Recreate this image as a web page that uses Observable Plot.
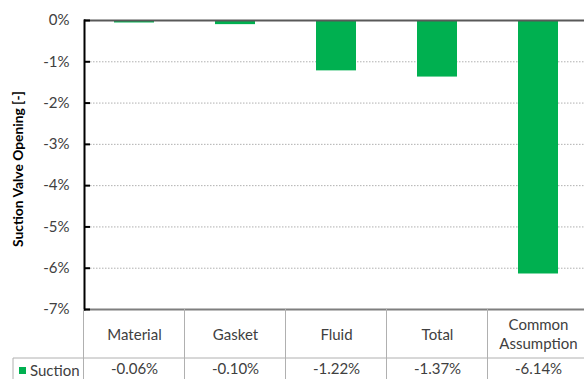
<!DOCTYPE html>
<html><head><meta charset="utf-8">
<script src="https://cdn.jsdelivr.net/npm/d3@7"></script>
<script src="https://cdn.jsdelivr.net/npm/@observablehq/plot@0.6"></script>
<style>body{margin:0;background:#fff;overflow:hidden}</style>
</head><body><div id="chart"></div>
<script>
const categories = ["Material", "Gasket", "Fluid", "Total", "Common Assumption"];
const suction = [-0.06, -0.10, -1.22, -1.37, -6.14];
const seriesName = "Suction";
const yTicks = [0, -1, -2, -3, -4, -5, -6, -7];
const yTitle = "Suction Valve Opening [-]";

const data = categories.map((c, i) => ({category: c, value: suction[i]}));
const FONT = "Lato, 'Open Sans', sans-serif";
const GREEN = "#00B050";
const FS = 15;

function tableMark(index, scales, values, dims) {
  const x = scales.x;
  const step = x.step(), bw = x.bandwidth();
  const bottom = dims.height - dims.marginBottom;
  const rowY = bottom + 49;
  const g = d3.create("svg:g");
  const edges = categories.map(c => x(c) + bw / 2 - step / 2);
  edges.push(edges[edges.length - 1] + step);
  g.selectAll("line.v").data(edges).join("line")
    .attr("x1", d => d).attr("x2", d => d)
    .attr("y1", bottom).attr("y2", dims.height)
    .attr("stroke", "#b0b0b0").attr("stroke-width", 1);
  g.append("line").attr("x1", 13).attr("x2", dims.width + 20)
    .attr("y1", rowY).attr("y2", rowY).attr("stroke", "#b0b0b0");
  g.append("line").attr("x1", 13).attr("x2", 13)
    .attr("y1", rowY).attr("y2", dims.height).attr("stroke", "#b0b0b0");
  g.append("rect").attr("x", 19).attr("y", rowY + 9).attr("width", 7).attr("height", 7).attr("fill", GREEN);
  g.append("text").attr("x", 30).attr("y", rowY + 13).attr("dy", "0.35em")
    .attr("text-anchor", "start")
    .attr("font-family", FONT).attr("font-size", FS).attr("fill", "#404040").text(seriesName);
  return g.node();
}

const plot = Plot.plot({
  width: 584,
  height: 379,
  marginTop: 20,
  marginBottom: 70,
  marginLeft: 84,
  marginRight: 0,
  style: {fontFamily: FONT, fontSize: FS + "px", color: "#404040", background: "#fff"},
  x: {domain: categories, range: [84, 589], paddingInner: 0.6, paddingOuter: 0.3, axis: null},
  y: {domain: [-7, 0], axis: null},
  marks: [
    Plot.gridY(yTicks.filter(d => d !== 0 && d !== -7), {stroke: "#b0b0b0", strokeOpacity: 1, strokeDasharray: "1.5,1.5"}),
    Plot.barY(data, {x: "category", y: "value", fill: GREEN}),
    Plot.ruleY([0], {stroke: "#595959", strokeWidth: 2}),
    Plot.ruleY([-7], {stroke: "#7f7f7f", strokeWidth: 2}),
    Plot.axisY({ticks: yTicks, tickFormat: d => d + "%", tickSize: -6, tickPadding: 21, stroke: "#000", strokeWidth: 2, label: null, fontSize: FS, fill: "#404040"}),
    Plot.frame({anchor: "left", stroke: "#000", strokeWidth: 2}),
    Plot.text([yTitle], {frameAnchor: "left", textAnchor: "middle", rotate: -90, dx: -66, dy: 4, fontWeight: "bold", fontSize: 13.8, fill: "#000"}),
    Plot.text(data, {x: "category", text: "category", frameAnchor: "bottom", dy: 24, lineAnchor: "middle", lineWidth: 6, lineHeight: 1.25, fontSize: FS, fill: "#404040"}),
    Plot.text(data, {x: "category", text: d => d.value.toFixed(2) + "%", frameAnchor: "bottom", dy: 64, fontSize: FS, fill: "#404040"}),
    tableMark
  ]
});
document.getElementById("chart").appendChild(plot);
</script>
</body></html>
